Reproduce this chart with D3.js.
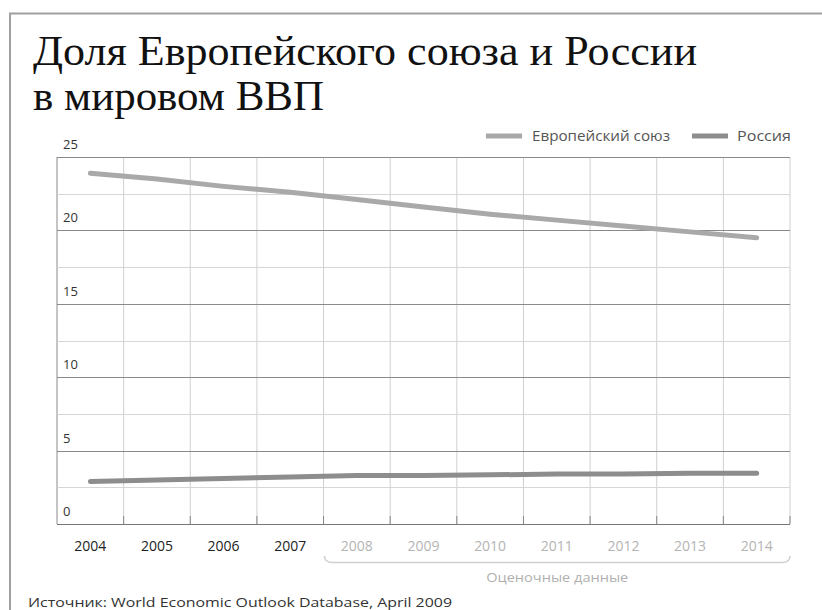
<!DOCTYPE html>
<html><head><meta charset="utf-8">
<script src="https://cdn.jsdelivr.net/npm/d3@7"></script>
<style>
html,body{margin:0;padding:0;background:#fff;}
svg{display:block;}
</style></head>
<body>
<svg id="chart" width="822" height="610"></svg>
<script>
const years = ["2004","2005","2006","2007","2008","2009","2010","2011","2012","2013","2014"];
const euValues = [23.9, 23.5, 23.0, 22.6, 22.1, 21.6, 21.1, 20.7, 20.3, 19.9, 19.5];
const russiaValues = [2.9, 3.0, 3.1, 3.2, 3.3, 3.3, 3.35, 3.4, 3.4, 3.45, 3.45];
const yTicks = [0, 5, 10, 15, 20, 25];
const minorTicks = [2.5, 7.5, 12.5, 17.5, 22.5];
const estimatedYears = ["2008","2009","2010","2011","2012","2013","2014"];
const seriesNames = ["Европейский союз", "Россия"];
const titleLines = ["Доля Европейского союза и России", "в мировом ВВП"];
const estimateLabel = "Оценочные данные";
const sourceText = "Источник: World Economic Outlook Database, April 2009";

const svg = d3.select("#chart");
const sans = "'Open Sans', 'Noto Sans', sans-serif";
const serif = "'Liberation Serif', 'DejaVu Serif', serif";

function fit(sel, w) { sel.attr("textLength", w).attr("lengthAdjust", "spacingAndGlyphs"); return sel; }

// frame
svg.append("path").attr("d", "M10,610 V13.5 H822").attr("fill", "none").attr("stroke", "#a0a0a0").attr("stroke-width", 2);

// title
fit(svg.append("text").attr("x", 33).attr("y", 65).attr("font-family", serif).attr("font-size", 42).attr("fill", "#111").text(titleLines[0]), 664);
fit(svg.append("text").attr("x", 33).attr("y", 110).attr("font-family", serif).attr("font-size", 42).attr("fill", "#111").text(titleLines[1]), 291);

const x = d3.scaleBand().domain(years).range([57, 790]);
const y = d3.scaleLinear().domain([0, 25]).range([524, 157]);

const g = svg.append("g");

// vertical grid
const edges = years.map(d => x(d)).concat([x.range()[1]]);
g.selectAll(".vg").data(edges).join("line")
  .attr("x1", d => d).attr("x2", d => d).attr("y1", y(25)).attr("y2", y(0))
  .attr("stroke", (d, i) => i === 0 ? "#8a8a8a" : "#d0d0d0").attr("stroke-width", 1);
// small ticks at bottom
g.selectAll(".vt").data(edges.slice(1)).join("line")
  .attr("x1", d => d).attr("x2", d => d).attr("y1", y(0) - 8).attr("y2", y(0))
  .attr("stroke", "#888").attr("stroke-width", 1);

// minor horizontal
g.selectAll(".mg").data(minorTicks).join("line")
  .attr("x1", x.range()[0]).attr("x2", x.range()[1]).attr("y1", d => Math.round(y(d)) + 0.5).attr("y2", d => Math.round(y(d)) + 0.5)
  .attr("stroke", "#d6d6d6").attr("stroke-width", 1);
// major horizontal
g.selectAll(".Mg").data(yTicks).join("line")
  .attr("x1", x.range()[0]).attr("x2", x.range()[1]).attr("y1", d => Math.round(y(d)) + 0.5).attr("y2", d => Math.round(y(d)) + 0.5)
  .attr("stroke", d => d === 0 ? "#777" : "#8a8a8a").attr("stroke-width", 1);

// y labels
g.selectAll(".yl").data(yTicks).join("text")
  .attr("x", 63).attr("y", d => y(d) - 8)
  .attr("font-family", sans).attr("font-size", 13).attr("fill", "#333")
  .text(d => d);

// lines
const line = d3.line().x((d, i) => x(years[i]) + x.bandwidth() / 2).y(d => y(d));
g.append("path").datum(euValues).attr("d", line).attr("fill", "none").attr("stroke", "#a9a9a9").attr("stroke-width", 5).attr("stroke-linecap", "round");
g.append("path").datum(russiaValues).attr("d", line).attr("fill", "none").attr("stroke", "#8d8d8d").attr("stroke-width", 5).attr("stroke-linecap", "round");

// x labels
g.selectAll(".xl").data(years).join("text")
  .attr("x", d => x(d) + x.bandwidth() / 2).attr("y", 551)
  .attr("text-anchor", "middle").attr("font-family", sans).attr("font-size", 14)
  .attr("fill", d => estimatedYears.includes(d) ? "#b4b4b4" : "#222")
  .each(function() { d3.select(this).attr("textLength", 32).attr("lengthAdjust", "spacingAndGlyphs"); })
  .text(d => d);

// brace for estimates
const bx0 = x(estimatedYears[0]) + 1, bx1 = x.range()[1];
const by = 562.5;
svg.append("path")
  .attr("d", `M${bx0},556 Q${bx0},${by} ${bx0 + 8},${by} H${bx1 - 8} Q${bx1},${by} ${bx1},556`)
  .attr("fill", "none").attr("stroke", "#cfcfcf").attr("stroke-width", 1.5);
fit(svg.append("text").attr("x", (bx0 + bx1) / 2).attr("y", 582).attr("text-anchor", "middle")
  .attr("font-family", sans).attr("font-size", 13).attr("fill", "#b0b0b0").text(estimateLabel), 142);

// legend
const legend = [
  {name: seriesNames[0], color: "#a9a9a9", sx: 486, tx: 532, w: 138},
  {name: seriesNames[1], color: "#8d8d8d", sx: 692, tx: 737, w: 54}
];
legend.forEach(l => {
  svg.append("line").attr("x1", l.sx).attr("x2", l.sx + 36).attr("y1", 136).attr("y2", 136)
    .attr("stroke", l.color).attr("stroke-width", 5);
  fit(svg.append("text").attr("x", l.tx).attr("y", 141).attr("font-family", sans).attr("font-size", 14).attr("fill", "#555").text(l.name), l.w);
});

// source
fit(svg.append("text").attr("x", 28).attr("y", 607).attr("font-family", sans).attr("font-size", 13).attr("fill", "#333").text(sourceText), 424);
</script>
</body></html>
